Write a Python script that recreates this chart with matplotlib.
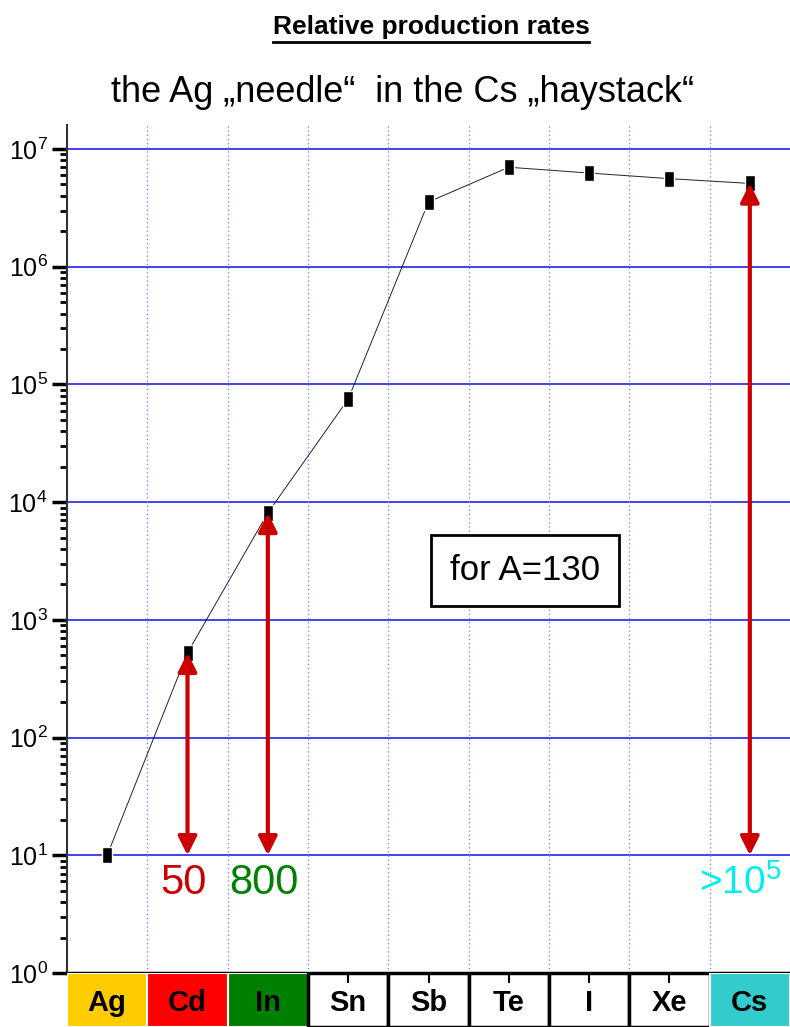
import numpy as np
import matplotlib
matplotlib.use("Agg")
import matplotlib.pyplot as plt
from matplotlib.path import Path
from matplotlib.lines import Line2D
from matplotlib.ticker import LogLocator, FixedLocator, FuncFormatter, NullFormatter

# data
elements = ["Ag", "Cd", "In", "Sn", "Sb", "Te", "I", "Xe", "Cs"]
rates = [10, 525, 8.1e3, 7.5e4, 3.55e6, 7.0e6, 6.25e6, 5.6e6, 5.1e6]
box_colors = ["#ffcc00", "#ff0000", "#008000", "white", "white", "white", "white", "white", "#33cccc"]

# ratio arrows: element, ratio label, label colour
arrow_elements = ["Cd", "In", "Cs"]
arrow_labels = ["50", "800", r">$\mathsf{10^5}$"]
arrow_label_colors = ["#cc0000", "#008000", "#00eeee"]

plt.rcParams["font.family"] = ["Liberation Sans", "DejaVu Sans"]
plt.rcParams["mathtext.fontset"] = "custom"
plt.rcParams["mathtext.rm"] = "Liberation Sans"
plt.rcParams["mathtext.sf"] = "Liberation Sans"

W, H = 790, 1027
fig = plt.figure(figsize=(W / 100, H / 100), dpi=100)
left, top_px, bottom_px = 67, 125, 973
ax = fig.add_axes([left / W, (H - bottom_px) / H, (W - left) / W, (bottom_px - top_px) / H])

x = np.arange(len(elements))

# grid
for yv in 10.0 ** np.arange(1, 8):
    ax.axhline(yv, color="#2222ee", lw=1.2, zorder=1)
for xv in x[:-1] + 0.5:
    ax.axvline(xv, color="#8888ff", lw=1, ls=(0, (1, 2)), zorder=1)

# data
rect = Path([(-0.31, -0.5), (0.31, -0.5), (0.31, 0.5), (-0.31, 0.5), (-0.31, -0.5)])
ax.plot(x, rates, color="#222222", lw=0.7, zorder=3)
ax.plot(x, rates, ls="none", marker=rect, ms=12, mfc="black", mec="white", mew=1.0, zorder=4)

# arrows
label_dx = [-0.05, -0.05, -0.12]
for el, lab, col, dx in zip(arrow_elements, arrow_labels, arrow_label_colors, label_dx):
    i = elements.index(el)
    ax.annotate("", xy=(i, rates[i]), xytext=(i, 10),
                arrowprops=dict(arrowstyle="<|-|>", color="#cc0000", lw=3,
                                mutation_scale=28, shrinkA=0, shrinkB=0), zorder=5)
    ax.text(i + dx, 5.8, lab, color=col, fontsize=30 if el != "Cs" else 28,
            ha="center", va="center", zorder=5)

ax.text(5.2, 10 ** 3.42, "for A=130", fontsize=25, ha="center", va="center", zorder=6,
        bbox=dict(boxstyle="square,pad=0.55", fc="white", ec="black", lw=2))

ax.set_yscale("log")
ax.set_ylim(1, 10 ** 7.204)
ax.set_xlim(-0.5, 8.5)
ax.set_xticks([])
ax.yaxis.set_major_locator(FixedLocator(10.0 ** np.arange(0, 8)))
ax.yaxis.set_major_formatter(FuncFormatter(lambda v, p: r"$\mathrm{10^{%d}}$" % round(np.log10(v))))
ax.yaxis.set_minor_locator(LogLocator(base=10, subs=np.arange(2, 10), numticks=20))
ax.yaxis.set_minor_formatter(NullFormatter())
ax.tick_params(axis="y", which="major", direction="out", length=11, width=2.5, labelsize=18, pad=3)
ax.tick_params(axis="y", which="minor", direction="out", length=5, width=2)
ax.spines["top"].set_visible(False)
ax.spines["right"].set_visible(False)
ax.spines["left"].set_linewidth(1.5)
ax.spines["left"].set_color("#333333")
ax.spines["bottom"].set_linewidth(2.5)

# element boxes under the axis
axc = fig.add_axes([left / W, 0, (W - left) / W, (H - bottom_px) / H])
for i, (el, c) in enumerate(zip(elements, box_colors)):
    if c == "white":
        axc.bar(i, 1, width=1, bottom=0, color="white", edgecolor="black", lw=2.5)
    else:
        axc.bar(i, 1, width=1, bottom=0, color=c, edgecolor="white", lw=1.5)
    axc.text(i, 0.45, el, fontsize=21, fontweight="bold", ha="center", va="center")
axc.set_xlim(-0.5, 8.5)
axc.set_ylim(0, 1.0)
axc.xaxis.tick_top()
axc.set_xticks([i for i, c in enumerate(box_colors) if c == "white"])
axc.set_xticklabels([])
axc.set_yticks([])
axc.tick_params(axis="x", direction="in", length=7, width=1.5)
for s in axc.spines.values():
    s.set_visible(False)

# titles
t = fig.text(431 / W, 1 - 27 / H, "Relative production rates",
             fontsize=19, fontweight="bold", ha="center", va="center")
fig.text(402 / W, 1 - 92 / H, "the Ag \u201eneedle\u201c  in the Cs \u201ehaystack\u201c",
         fontsize=26, ha="center", va="center")

fig.canvas.draw()
bb = t.get_window_extent(fig.canvas.get_renderer())
yl = (bb.y0 - 3) / H
fig.add_artist(Line2D([bb.x0 / W, bb.x1 / W], [yl, yl], color="black", lw=2, transform=fig.transFigure))

fig.savefig("out.png", dpi=100)
